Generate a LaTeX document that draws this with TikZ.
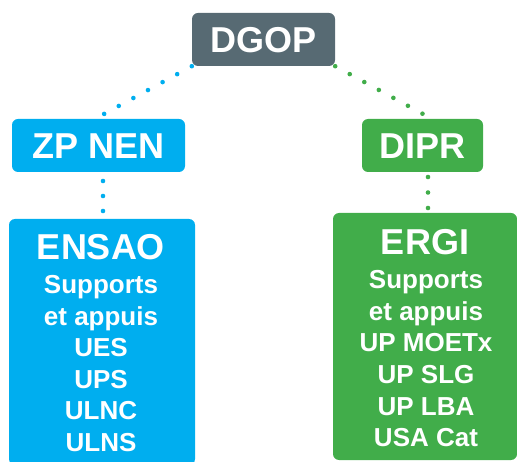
\documentclass[tikz,border=0pt]{standalone}
\usepackage{fontspec}
\setmainfont{Liberation Sans}
\definecolor{gbox}{HTML}{576A73}
\definecolor{bbox}{HTML}{00AEEF}
\definecolor{vbox}{HTML}{41AD4A}
\tikzset{
  box/.style={rectangle, rounded corners=6pt, inner sep=0pt, text=white,
    font=\fontsize{36}{40}\bfseries\selectfont, text height=26pt, text depth=0pt},
  bigbox/.style={rectangle, rounded corners=6pt, inner sep=0pt},
  head/.style={anchor=base, inner sep=0pt, text=white, font=\fontsize{36}{40}\bfseries\selectfont},
  line/.style={anchor=base, inner sep=0pt, text=white, font=\fontsize{26}{30}\bfseries\selectfont},
  dots/.style={line width=4.6pt, line cap=round, dash pattern=on 0pt off #1},
}
\begin{document}
\begin{tikzpicture}[x=1pt,y=-1pt]
\useasboundingbox (0,0) rectangle (517,462);
% boxes
\node[box, fill=gbox, minimum width=143pt, minimum height=53pt] (dgop) at (263.5,39.5) {DGOP};
\node[box, fill=bbox, minimum width=173pt, minimum height=53pt] (zp) at (98.5,145.5) {ZP NEN};
\node[box, fill=vbox, minimum width=121pt, minimum height=53pt] (dipr) at (422.5,145.5) {DIPR};
\node[bigbox, fill=bbox, minimum width=186pt, minimum height=246pt] (ensao) at (102,342) {};
\node[bigbox, fill=vbox, minimum width=184pt, minimum height=247pt] (ergi) at (425,336.5) {};
% connector end points
\coordinate (zpin) at (104,114);
\coordinate (diprin) at (423,114);
\coordinate (zpout) at (103,181);
\coordinate (ensaoin) at (103,211);
\coordinate (diprout) at (428,177);
\coordinate (ergiin) at (428,208);
% connectors
\draw[bbox, dots=16.63pt] (dgop.south west) -- (zpin);
\draw[vbox, dots=16.56pt] (dgop.south east) -- (diprin);
\draw[bbox, dots=15pt] (zpout) -- (ensaoin);
\draw[vbox, dots=15.5pt] (diprout) -- (ergiin);
% ENSAO text
\node[head] (ensaot) at (101,260) {ENSAO};
\node[line] (e1) at (101,294) {Supports};
\node[line] (e2) at (101,325.5) {et appuis};
\node[line] (e3) at (101,357) {UES};
\node[line] (e4) at (101,388.5) {UPS};
\node[line] (e5) at (101,420) {ULNC};
\node[line] (e6) at (101,451.5) {ULNS};
% ERGI text
\node[head] (ergit) at (425,255) {ERGI};
\node[line] (g1) at (426,289) {Supports};
\node[line] (g2) at (426,320.5) {et appuis};
\node[line] (g3) at (426,352) {UP MOETx};
\node[line] (g4) at (426,383.5) {UP SLG};
\node[line] (g5) at (426,415) {UP LBA};
\node[line] (g6) at (426,446.5) {USA Cat};
\end{tikzpicture}
\end{document}
